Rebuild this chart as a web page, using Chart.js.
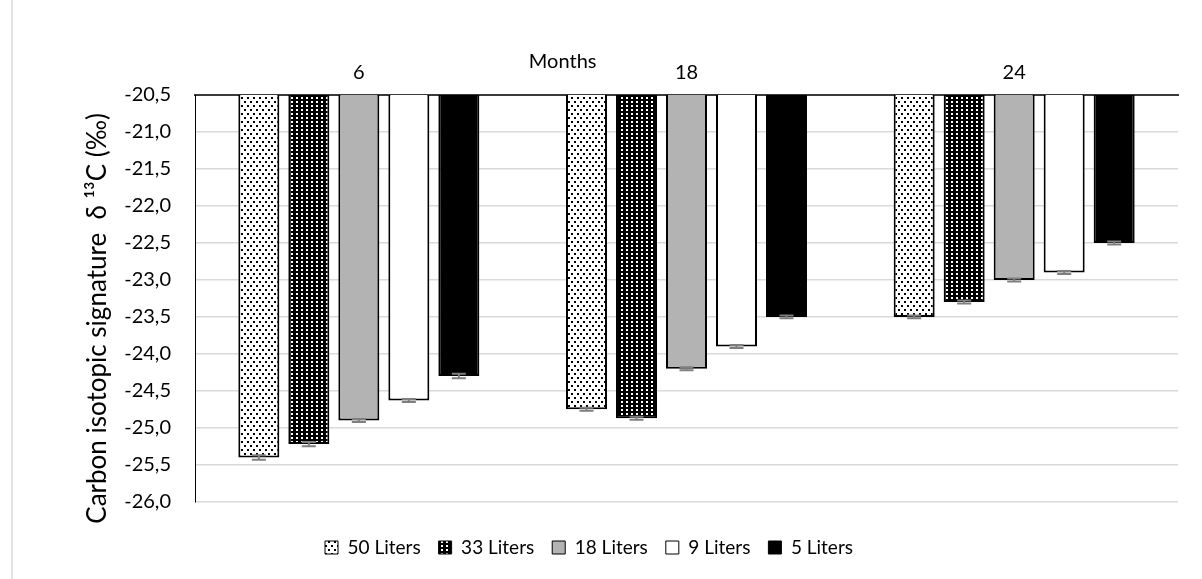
<!DOCTYPE html>
<html>
<head>
<meta charset="utf-8">
<title>Carbon isotopic signature</title>
<script src="https://cdn.jsdelivr.net/npm/chart.js@4"></script>
<style>
  html, body { margin: 0; padding: 0; background: #fff; }
  #wrap { position: relative; width: 1202px; height: 579px; }
  #frame { position: absolute; left: 11px; top: 0; bottom: 0; border-left: 2px solid #e2e2e2; }
</style>
</head>
<body>
<div id="wrap">
  <div id="frame"></div>
  <canvas id="grafico" width="1202" height="579"></canvas>
</div>
<script>
// =====================================================
// DATA
// =====================================================
const months = ["6", "18", "24"];
const seriesNames = ["50 Liters", "33 Liters", "18 Liters", "9 Liters", "5 Liters"];

const liters50 = [-25.40, -24.75, -23.50];
const liters33 = [-25.22, -24.87, -23.30];
const liters18 = [-24.90, -24.20, -23.00];
const liters9  = [-24.63, -23.90, -22.90];
const liters5  = [-24.30, -23.50, -22.50];

const err50 = [0.03, 0.02, 0.02];
const err33 = [0.03, 0.02, 0.02];
const err18 = [0.02, 0.02, 0.02];
const err9  = [0.02, 0.02, 0.02];
const err5  = [0.03, 0.02, 0.02];

const yTicks = { min: -26, max: -20.5, step: 0.5 };
const yTitle = "Carbon isotopic signature  δ ¹³C (‰)";
const xTitle = "Months";

const FONT = "Lato, 'Open Sans', sans-serif";

// =====================================================
// PATTERNS (dotted fills)
// =====================================================
function makePattern(w, h, bg, dot, dots) {
  const c = document.createElement("canvas");
  c.width = w;
  c.height = h;
  const g = c.getContext("2d");
  g.fillStyle = bg;
  g.fillRect(0, 0, w, h);
  g.fillStyle = dot;
  dots.forEach(d => g.fillRect(d[0], d[1], 2, 2));
  return document.getElementById("grafico").getContext("2d").createPattern(c, "repeat");
}

const fillLight = makePattern(6, 8, "#ffffff", "#000000", [[1, 1], [4, 5]]);
const fillDark  = makePattern(5, 4, "#000000", "#ffffff", [[1, 1]]);

const fills  = [fillLight, fillDark, "#b3b3b3", "#ffffff", "#000000"];
const values = [liters50, liters33, liters18, liters9, liters5];
const errors = [err50, err33, err18, err9, err5];

// =====================================================
// PLUGINS: error bars + axis captions
// =====================================================
const errorBars = {
  id: "errorBars",
  afterDatasetsDraw(chart) {
    const ctx = chart.ctx;
    const y = chart.scales.y;
    ctx.save();
    ctx.strokeStyle = "#7f7f7f";
    ctx.lineWidth = 2;
    chart.data.datasets.forEach((ds, i) => {
      const meta = chart.getDatasetMeta(i);
      meta.data.forEach((bar, j) => {
        const v = ds.data[j];
        const e = ds.errors[j];
        const top = y.getPixelForValue(v + e);
        const bot = y.getPixelForValue(v - e);
        const x = bar.x;
        ctx.beginPath();
        ctx.moveTo(x, top); ctx.lineTo(x, bot);
        ctx.moveTo(x - 7, top); ctx.lineTo(x + 7, top);
        ctx.moveTo(x - 7, bot); ctx.lineTo(x + 7, bot);
        ctx.stroke();
      });
    });
    ctx.restore();
  }
};

const axisCaptions = {
  id: "axisCaptions",
  afterDraw(chart) {
    const a = chart.chartArea;
    const ctx = chart.ctx;
    ctx.save();
    ctx.fillStyle = "#000";
    ctx.textAlign = "center";
    ctx.textBaseline = "middle";

    // "Months" sits above the top axis, a bit left of centre
    ctx.font = "20px " + FONT;
    ctx.fillText(xTitle, a.left + (a.right - a.left) * 0.374, a.top - 33);

    // rotated y title
    ctx.font = "26px " + FONT;
    ctx.translate(a.left - 97, (a.top + a.bottom) / 2 + 20);
    ctx.rotate(-Math.PI / 2);
    ctx.fillText(yTitle, 0, 0);
    ctx.restore();
  }
};

// =====================================================
// CHART
// =====================================================
new Chart(document.getElementById("grafico"), {
  type: "bar",
  data: {
    labels: months,
    datasets: seriesNames.map((name, i) => ({
      label: name,
      data: values[i],
      errors: errors[i],
      backgroundColor: fills[i],
      borderColor: "#000000",
      borderWidth: 2,
      borderSkipped: false,
      categoryPercentage: 0.763,
      barPercentage: 0.82
    }))
  },
  options: {
    responsive: false,
    animation: false,
    layout: { padding: { left: 0, right: 24, top: 0, bottom: 12 } },
    scales: {
      x: {
        position: "top",
        grid: { display: false },
        border: { color: "#3a3a3a", width: 2 },
        ticks: { color: "#000", font: { family: FONT, size: 20 }, padding: 2 },
        afterFit(scale) { scale.height = 95; }
      },
      y: {
        min: yTicks.min,
        max: yTicks.max,
        grid: { color: "#d9d9d9", lineWidth: 1.5, drawTicks: false },
        border: { color: "#000", width: 1 },
        ticks: {
          stepSize: yTicks.step,
          color: "#000",
          padding: 24,
          font: { family: FONT, size: 20 },
          callback: v => v.toFixed(1).replace(".", ",")
        },
        afterFit(scale) { scale.width = 195; }
      }
    },
    plugins: {
      legend: {
        position: "bottom",
        title: { display: true, text: " ", font: { size: 1 }, padding: { top: 0, bottom: 17 } },
        labels: {
          color: "#000",
          font: { family: FONT, size: 19 },
          boxWidth: 13,
          boxHeight: 13,
          padding: 18,
          generateLabels(chart) {
            return chart.data.datasets.map((ds, i) => ({
              text: ds.label,
              fillStyle: ds.backgroundColor,
              strokeStyle: "#000",
              lineWidth: 1,
              fontColor: "#000",
              datasetIndex: i
            }));
          }
        }
      },
      tooltip: { enabled: false }
    }
  },
  plugins: [errorBars, axisCaptions]
});
</script>
</body>
</html>
